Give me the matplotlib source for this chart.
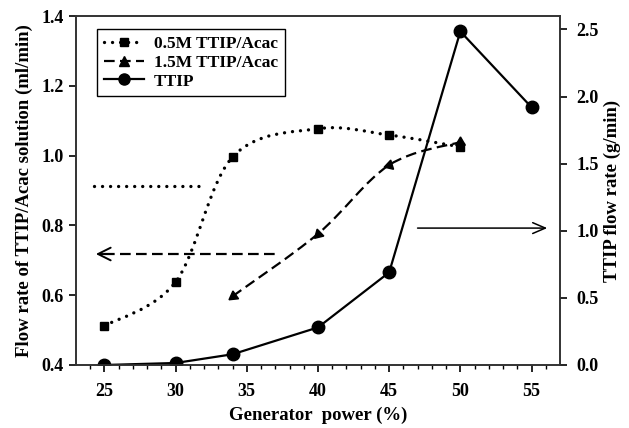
import numpy as np
import matplotlib
matplotlib.use("Agg")
import matplotlib.pyplot as plt
from matplotlib.path import Path
from matplotlib.patches import PathPatch
from matplotlib.lines import Line2D

plt.rcParams['font.family'] = ['Liberation Serif', 'DejaVu Serif']
plt.rcParams['font.weight'] = 'bold'
plt.rcParams['font.size'] = 13

# dati
power_05 = [25, 30, 34, 40, 45, 50]
flow_05 = [0.512, 0.638, 0.996, 1.077, 1.059, 1.025]

power_15 = [34, 40, 45, 50]
flow_15 = [0.597, 0.776, 0.973, 1.039]

power_ttip = [25, 30, 34, 40, 45, 50, 55]
flow_ttip = [0.0, 0.015, 0.08, 0.28, 0.69, 2.485, 1.92]

labels = ['0.5M TTIP/Acac', '1.5M TTIP/Acac', 'TTIP']


def smooth_path(x, y):
    # curva Catmull-Rom resa come Bezier cubiche
    p = np.column_stack([x, y]).astype(float)
    p_ext = np.vstack([p[0], p, p[-1]])
    verts = [p[0]]
    codes = [Path.MOVETO]
    for i in range(1, len(p_ext) - 2):
        c1 = p_ext[i] + (p_ext[i + 1] - p_ext[i - 1]) / 6
        c2 = p_ext[i + 1] - (p_ext[i + 2] - p_ext[i]) / 6
        verts += [c1, c2, p_ext[i + 1]]
        codes += [Path.CURVE4] * 3
    return Path(verts, codes)


fig = plt.figure(figsize=(6.29, 4.28), dpi=100)
ax = fig.add_axes([0.1208, 0.1472, 0.7695, 0.8154])
ax2 = ax.twinx()

DOTS = (0, (0.01, 2.4))
DASHES = (0, (4.8, 2.4))
dot_style = dict(linestyle=DOTS, linewidth=2.4, dash_capstyle='round')
dash_style = dict(linestyle=DASHES, linewidth=1.6)

ax.add_patch(PathPatch(smooth_path(power_05, flow_05), fill=False, edgecolor='black',
                       linestyle=DOTS, linewidth=2.4, capstyle='round'))
ax.plot(power_05, flow_05, linestyle='none', marker='s', markersize=6, color='black')

ax.add_patch(PathPatch(smooth_path(power_15, flow_15), fill=False, edgecolor='black',
                       linestyle=DASHES, linewidth=1.6))
# triangoli orientati come frecce lungo la curva
tri_rot = [126, 134, 107, 0]
for xx, yy, r in zip(power_15, flow_15, tri_rot):
    ax.plot(xx, yy, linestyle='none', marker=(3, 0, r), markersize=8, color='black')

ax2.plot(power_ttip, flow_ttip, '-o', color='black', linewidth=1.6, markersize=9)

# frecce verso gli assi
ax.plot([24.3, 31.85], [0.913, 0.913], color='black', **dot_style)
ax.plot([25.0, 37.2], [0.718, 0.718], color='black', **dash_style)
ax.annotate('', xy=(24.2, 0.718), xytext=(25.4, 0.718),
            arrowprops=dict(arrowstyle='->,head_length=0.7,head_width=0.35', lw=1.4, color='black'))
ax2.annotate('', xy=(56.3, 1.02), xytext=(46.8, 1.02),
             arrowprops=dict(arrowstyle='->,head_length=0.7,head_width=0.3', lw=1.1, color='black'))

ax.set_xlim(23, 57)
ax.set_ylim(0.4, 1.4)
ax2.set_ylim(0, 2.6)
ax.set_xticks([25, 30, 35, 40, 45, 50, 55])
ax.set_xticks(np.arange(24, 57, 1), minor=True)
ax.set_yticks([0.4, 0.6, 0.8, 1.0, 1.2, 1.4])
ax2.set_yticks([0.0, 0.5, 1.0, 1.5, 2.0, 2.5])
ax.yaxis.set_major_formatter(plt.FormatStrFormatter('%.1f'))
ax2.yaxis.set_major_formatter(plt.FormatStrFormatter('%.1f'))

ax.tick_params(axis='x', which='major', direction='out', length=5, width=1.2, labelsize=13, pad=8)
ax.tick_params(axis='y', which='major', direction='out', length=5, width=1.2, labelsize=13, pad=4)
ax.tick_params(axis='x', which='minor', direction='out', length=3, width=1.0)
ax2.tick_params(axis='y', which='major', direction='out', length=5, width=1.2, labelsize=13, pad=7)
for a in (ax, ax2):
    for s in a.spines.values():
        s.set_linewidth(1.2)
        s.set_color('#333333')

ax.set_xlabel('Generator  power (%)', fontsize=13.5, fontweight='bold', labelpad=5)
ax.set_ylabel('Flow rate of TTIP/Acac solution (ml/min)', fontsize=13.5, fontweight='bold', labelpad=6)
ax2.set_ylabel('TTIP flow rate (g/min)', fontsize=13.5, fontweight='bold', labelpad=3)

handles = [
    Line2D([], [], color='black', marker='s', markersize=6, **dot_style),
    Line2D([], [], color='black', marker='^', markersize=7, **dash_style),
    Line2D([], [], color='black', marker='o', markersize=8, linewidth=1.6),
]
leg = ax2.legend(handles, labels, loc='upper left', bbox_to_anchor=(0.043, 0.963),
                 borderaxespad=0, fancybox=False, edgecolor='black', framealpha=1,
                 handlelength=2.3, handletextpad=0.6, labelspacing=0.15, fontsize=12.5,
                 borderpad=0.4)
leg.get_frame().set_linewidth(1.0)

fig.savefig('out.png', dpi=100)
